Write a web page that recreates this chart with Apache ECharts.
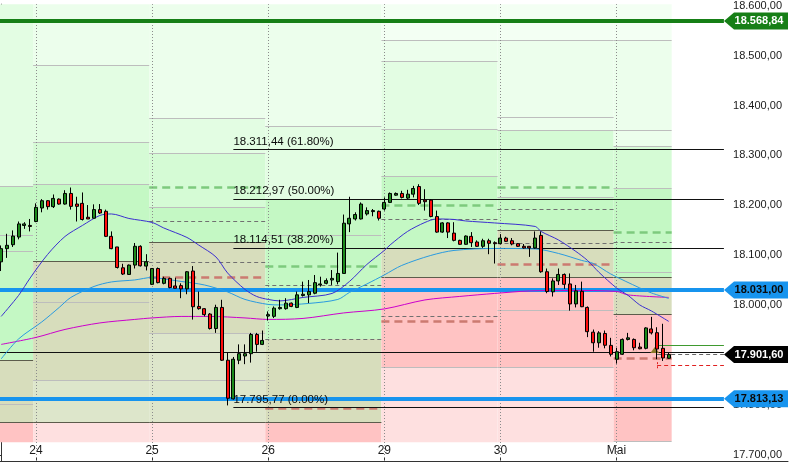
<!DOCTYPE html>
<html><head><meta charset="utf-8">
<script src="https://cdn.jsdelivr.net/npm/echarts@6/dist/echarts.min.js"></script>
<style>html,body{margin:0;padding:0;background:#fff}#c{width:790px;height:462px}</style>
</head><body><div id="c"></div>
<script>
// ---------- DATA ----------
const dayLabels = ['24', '25', '26', '29', '30', 'Mai'];
const dayStarts = [6, 26, 46, 66, 86, 106];
const yTicks = [17700, 17800, 17900, 18000, 18100, 18200, 18300, 18400, 18500, 18600];

const opens = [18087.2,18113.6,18121.5,18136.8,18160.0,18160.0,18167.9,18194.9,18209.5,18197.6,
18212.7,18202.8,18224.0,18202.8,18204.2,18176.4,18174.4,18191.7,18188.3,18138.2,
18117.0,18075.3,18062.0,18080.7,18118.3,18078.7,18042.2,18073.9,18044.2,18054.1,
18039.0,18039.6,18033.1,18068.8,17998.0,17993.5,17982.8,17953.8,17996.0,17890.4,
17813.1,17890.4,17898.9,17903.5,17941.9,17922.1,17978.8,17978.2,17993.5,17993.5,
18004.6,17996.0,18019.8,18021.2,18024.4,18041.0,18044.2,18050.9,18047.6,18064.0,
18163.1,18173.0,18173.0,18183.0,18187.7,18188.3,18192.9,18206.1,18220.6,18224.0,
18214.7,18222.6,18237.9,18210.7,18210.7,18177.8,18146.7,18165.1,18144.7,18130.2,
18122.3,18138.2,18126.9,18118.3,18129.4,18125.5,18123.5,18134.8,18129.4,18123.5,
18118.3,18118.3,18115.0,18140.1,18067.4,18027.2,18049.0,18062.0,18043.0,18003.0,
18028.3,17996.0,17946.5,17925.3,17943.9,17920.1,17892.4,17902.3,17932.0,17932.0,
17916.7,17914.2,17953.0,17945.5,17914.2,17894.3];
const closes = [18113.6,18120.3,18138.8,18163.1,18163.1,18158.0,18196.2,18209.5,18197.6,18214.1,
18202.8,18224.0,18198.2,18198.2,18171.9,18173.0,18191.7,18184.9,18138.2,18113.6,
18075.9,18062.8,18080.7,18118.3,18079.3,18087.2,18073.9,18045.6,18054.1,18035.7,
18034.3,18033.1,18067.4,17997.4,17993.5,17981.6,17953.8,17996.0,17890.4,17814.3,
17892.4,17903.5,17903.5,17941.9,17922.1,17930.0,17981.6,17994.6,17996.0,18004.6,
17998.0,18021.2,18022.4,18027.8,18045.6,18043.0,18049.6,18054.1,18064.0,18164.5,
18174.4,18181.8,18202.8,18189.7,18189.7,18174.4,18206.1,18224.0,18224.0,18216.1,
18222.6,18233.9,18204.2,18207.5,18177.8,18146.7,18165.1,18146.7,18130.2,18122.3,
18138.8,18125.5,18118.3,18129.4,18124.3,18123.5,18134.8,18128.2,18122.9,18118.3,
18115.0,18115.0,18134.8,18067.4,18027.8,18049.0,18062.0,18042.2,18003.0,18029.1,
17997.4,17947.5,17925.3,17945.1,17920.3,17902.3,17907.4,17932.0,17935.2,17915.4,
17913.4,17955.0,17945.1,17912.8,17894.9,17901.6];
const lows = [18068.8,18095.1,18117.0,18132.2,18153.2,18148.1,18166.5,18186.3,18191.7,18194.9,
18201.6,18201.6,18191.7,18167.9,18169.9,18173.0,18174.4,18183.0,18136.8,18112.4,
18073.9,18060.9,18060.9,18073.9,18077.9,18070.0,18041.0,18044.2,18042.2,18034.3,
18034.3,18014.5,18022.4,17971.7,17991.5,17978.2,17951.8,17945.1,17889.0,17800.0,
17811.7,17882.5,17882.5,17885.6,17907.4,17920.7,17969.7,17974.8,17991.5,17991.5,
17996.6,17994.6,18017.8,18004.6,18022.4,18037.7,18042.2,18041.0,18042.2,18064.0,
18146.7,18169.9,18171.9,18179.8,18178.4,18169.9,18189.7,18204.8,18219.4,18214.1,
18212.7,18216.1,18200.8,18189.7,18176.4,18145.3,18145.3,18134.8,18128.2,18121.5,
18121.5,18117.0,18117.0,18115.0,18102.5,18083.8,18122.3,18126.9,18120.3,18117.0,
18113.6,18097.1,18113.6,18065.4,18024.4,18017.8,18041.0,18033.1,17989.5,17996.0,
17996.6,17936.6,17907.4,17915.4,17914.2,17897.9,17883.6,17900.9,17930.0,17910.2,
17912.2,17912.2,17941.9,17892.4,17889.0,17893.0];
const highs = [18120.0,18143.3,18150.1,18167.9,18166.5,18173.0,18204.2,18212.7,18210.7,18222.0,
18214.1,18230.5,18235.9,18217.4,18226.0,18200.8,18202.2,18202.8,18191.7,18148.1,
18117.0,18083.3,18081.9,18124.9,18120.3,18102.5,18074.5,18075.9,18057.5,18055.5,
18055.5,18044.2,18068.8,18078.7,18027.8,17994.6,17984.7,18001.4,18011.3,17905.4,
17896.9,17922.1,17922.1,17945.1,17945.1,17949.8,17988.1,17998.0,18011.3,18014.5,
18005.9,18027.8,18047.6,18050.9,18060.9,18057.5,18054.1,18070.8,18105.7,18181.8,
18217.4,18186.3,18206.1,18196.2,18192.9,18189.7,18216.1,18226.0,18226.0,18229.3,
18231.3,18239.2,18242.5,18232.5,18212.7,18189.7,18166.5,18166.5,18166.5,18131.4,
18140.1,18146.7,18130.2,18133.4,18133.4,18128.2,18142.7,18137.4,18134.8,18124.9,
18122.9,18118.9,18148.1,18148.1,18073.9,18054.1,18073.9,18064.0,18064.0,18041.0,
18047.6,17998.0,17951.8,17948.5,17949.8,17935.2,17915.4,17934.0,17945.1,17934.0,
17925.3,17956.4,17977.2,17956.4,17963.3,17904.9];

// moving averages: [candle index, value]
const maFast = [[0,17978],[3,18020],[5,18055],[8,18102],[11,18138],[14,18160],[17,18180],[19,18183],[22,18174],
[26,18166],[28,18155],[32,18136],[34,18121],[37,18097],[39,18065],[42,18032],[44,18018],[46,18012],[48,18009],
[52,18016],[57,18024],[60,18048],[63,18082],[66,18110],[67,18121],[70,18148],[73,18166],[75,18173],[78,18172],
[80,18169],[85,18165],[92,18158],[93,18148],[96,18131],[99,18108],[101,18090],[103,18066],[106,18035],[108,18020],
[110,18001],[112,17989],[115,17968]];
const maMid = [[0,17893],[3,17933],[7,17967],[10,17996],[12,18016],[16,18038],[19,18047],[23,18051],[26,18056],
[28,18053],[31,18048],[35,18041],[39,18027],[42,18012],[46,18002],[48,18001],[53,18004],[58,18012],[60,18026],
[63,18043],[66,18061],[69,18080],[74,18100],[78,18110],[85,18114],[92,18113],[96,18104],[100,18090],[102,18084],
[105,18063],[110,18035],[112,18025],[115,18014]];
const maSlow = [[0,17922],[6,17936],[11,17952],[17,17965],[23,17972],[26,17975],[31,17978],[36,17978],[42,17975],
[46,17972],[52,17974],[59,17985],[66,17993],[73,18011],[79,18018],[85,18024],[91,18029],[98,18030],[106,18028],
[108,18021],[115,18016]];

const fibLevels = [18311.44, 18212.97, 18114.51, 17795.77];
const fibPcts = ['61.80%', '50.00%', '38.20%', '0.00%'];
const fibStart = 40;
const levelGreen = 18568.84;
const levelsBlue = [18031.00, 17813.13];
const lastPrice = 17901.60;
const supportLine = 17906.8;
const orderLine = 17920;
const stopLine = 17880.5;
const orderStart = 113;

// daily trading zones: start/end index, bands [lower edge, kind], lines [level, kind]
const zoneStarts = [-14, 6, 26, 46, 66, 86, 106];
const zoneEnds = [6, 26, 46, 66, 86, 106, 116];
const zoneBands = [
  [[18238,'L'],[17890,'G'],[17766,'K'],[17726.5,'P']],
  [[18480,'T'],[18326,'L'],[18242,'L2'],[18089,'G'],[17850,'K'],[17766,'K2'],[17726.5,'P2']],
  [[18375,'T'],[18304,'L'],[18196,'L2'],[18127,'G'],[17945,'K'],[17766,'K2'],[17726.5,'P2']],
  [[18358,'T'],[18213,'L'],[17933,'G'],[17766,'K'],[17726.5,'P']],
  [[18531,'T0'],[18489,'T'],[18352,'L'],[18259,'L2'],[18115,'G'],[18057,'K'],[17877,'P'],[17726.5,'P2']],
  [[18531,'T0'],[18351,'T'],[18217,'L2'],[18150,'G'],[18057,'K'],[17877,'P'],[17726.5,'P2']],
  [[18531,'T0'],[18318,'T'],[18234,'L2'],[18057,'G'],[17982,'K'],[17729,'P']]
];
const zoneLines = [
  [[18238,'g'],[18140,'g'],[18108,'g'],[17890,'d'],[17802,'g'],[17766,'d']],
  [[18480,'g'],[18326,'g'],[18242,'g'],[18089,'d'],[18006,'g'],[17850,'g'],[17766,'d']],
  [[18375,'g'],[18304,'g'],[18236,'gr'],[18196,'g'],[18168,'gd'],[18127,'d'],[18087,'gd'],[18057,'br'],[17945,'g'],[17850,'g'],[17766,'d']],
  [[18358,'g'],[18140,'g'],[18079,'gr'],[18041,'gd'],[17933,'gd'],[17795,'br'],[17766,'d']],
  [[18531,'g'],[18489,'g'],[18352,'g'],[18259,'g'],[18200,'gr'],[18173,'gd'],[18115,'d'],[18057,'d'],[17978,'gd'],[17968,'br'],[17877,'g']],
  [[18531,'g'],[18376,'g'],[18351,'g'],[18236,'gr'],[18217,'g'],[18193,'gd'],[18150,'d'],[18124,'gd'],[18083,'br'],[18057,'d'],[17990,'g'],[17877,'g']],
  [[18531,'g'],[18351,'g'],[18318,'g'],[18234,'g'],[18147,'gr'],[18126,'gd'],[18066,'g'],[18057,'d'],[17982,'d'],[17894,'br'],[17729,'g']]
];

// ---------- STYLE / LAYOUT ----------
const X_MIN = -0.2016, X_MAX = 135.54;
const Y_MIN = 17688.8, Y_MAX = 18602.6;
const LINE_END = 124.5, BADGE_X = 130.03;
const FONT = '"Liberation Sans", Arial, sans-serif';
const bandColors = {T0:'#f3fff3', T:'#ecfeec', L:'#e3fde3', L2:'#d5fbd5', G:'#c4f8c4', K:'#d7ddbc', K2:'#dde6cb', P:'#ffc3c3', P2:'#fee0e0'};
const lineKinds = {
  g: {color:'#bdbdbd', width:1, type:'solid'},
  d: {color:'#5c5c4c', width:1, type:'solid'},
  gd: {color:'#707070', width:1, type:[4,3]},
  gr: {color:'#7dca7d', width:2.5, type:[8,5]},
  br: {color:'#cc7a70', width:2.5, type:[8,5]}
};

function fmt(v) {
  const s = Math.abs(v).toFixed(2).split('.');
  return s[0].replace(/\B(?=(\d{3})+(?!\d))/g, '.') + ',' + s[1];
}

const bandItems = [], zoneLineItems = [];
zoneBands.forEach((bands, k) => {
  const x0 = Math.max(X_MIN, zoneStarts[k] - 0.5), x1 = zoneEnds[k] - 0.5;
  let upper = Y_MAX;
  bands.forEach(([lower, kind]) => {
    bandItems.push([{xAxis: x0, yAxis: upper, itemStyle: {color: bandColors[kind], opacity: 1}}, {xAxis: x1, yAxis: lower}]);
    upper = lower;
  });
  zoneLines[k].forEach(([v, kind]) => {
    zoneLineItems.push([{coord: [x0, v], lineStyle: lineKinds[kind]}, {coord: [x1, v]}]);
  });
});

const levelItems = [];
levelItems.push([{coord:[X_MIN, supportLine], lineStyle:{color:'#111', width:1, type:'solid'}}, {coord:[LINE_END, supportLine]}]);
levelItems.push([{coord:[X_MIN, levelGreen], lineStyle:{color:'#167f16', width:4, type:'solid'}}, {coord:[LINE_END, levelGreen]}]);
levelsBlue.forEach(v => levelItems.push([{coord:[X_MIN, v], lineStyle:{color:'#1794ee', width:4, type:'solid'}}, {coord:[LINE_END, v]}]));
levelItems.push([{coord:[orderStart, orderLine], lineStyle:{color:'#3f9a2f', width:1, type:'solid'}}, {coord:[LINE_END, orderLine]}]);
levelItems.push([{coord:[orderStart, lastPrice], lineStyle:{color:'#666', width:1, type:[4,3]}}, {coord:[LINE_END, lastPrice]}]);
levelItems.push([{coord:[orderStart, stopLine], lineStyle:{color:'#e02020', width:1, type:[4,3]}}, {coord:[LINE_END, stopLine]}]);
levelItems.push([{coord:[orderStart, stopLine + 6], lineStyle:{color:'#e02020', width:1, type:[2,2]}}, {coord:[orderStart, stopLine - 6]}]);
fibLevels.forEach((v, i) => levelItems.push([
  {coord:[fibStart, v], lineStyle:{color:'#111', width:1, type:'solid'},
   label:{show:true, position:'insideStartTop', distance:[0, 2], formatter: fmt(v) + ' (' + fibPcts[i] + ')', color:'#0a0a0a', fontSize:11.5, fontFamily: FONT}},
  {coord:[LINE_END, v]}
]));

function badge(v, bg, fg) {
  return {coord:[BADGE_X, v], symbol:'path://M0,8.5L10,0L64,0L64,17L10,17Z', symbolSize:[64,17], symbolKeepAspect:false,
    itemStyle:{color:bg}, label:{show:true, formatter: fmt(v), color: fg, fontSize:11, fontWeight:'bold', fontFamily: FONT, offset:[3,0]}};
}

const chart = echarts.init(document.getElementById('c'), null, {renderer:'canvas'});
chart.setOption({
  animation: false,
  backgroundColor: '#ffffff',
  grid: {left: 0, right: 2, top: 0, bottom: 1, containLabel: false},
  xAxis: {
    type: 'value', min: X_MIN, max: X_MAX,
    axisLine: {show: true, onZero: false, lineStyle: {color: '#333', width: 1}},
    axisTick: {show: true, inside: true, length: 3, customValues: dayStarts, lineStyle: {color: '#333'}},
    axisLabel: {inside: true, margin: 4, customValues: dayStarts, formatter: v => dayLabels[dayStarts.indexOf(Math.round(v))] || '', color: '#1a1a1a', fontSize: 12, fontFamily: FONT},
    splitLine: {show: false}
  },
  yAxis: {
    type: 'value', position: 'right', min: Y_MIN, max: Y_MAX, scale: true,
    axisLine: {show: true, lineStyle: {color: '#333', width: 1}},
    axisTick: {show: true, inside: true, length: 4, customValues: yTicks, lineStyle: {color: '#333'}},
    axisLabel: {inside: true, margin: 6, customValues: yTicks, formatter: v => fmt(v), color: '#1a1a1a', fontSize: 11, fontFamily: FONT},
    splitLine: {show: false}
  },
  series: [
    {type: 'line', name: 'zones', data: [], silent: true,
      markArea: {silent: true, label: {show: false}, data: bandItems}},
    {type: 'line', name: 'zoneLines', data: [], silent: true,
      markLine: {silent: true, symbol: ['none', 'none'], label: {show: false}, data: zoneLineItems}},
    {type: 'line', name: 'days', data: [], silent: true,
      markLine: {silent: true, symbol: ['none', 'none'], label: {show: false},
        lineStyle: {color: '#8c8c8c', width: 1, type: [1, 2]},
        data: dayStarts.map(d => ({xAxis: d}))}},
    {type: 'line', name: 'levels', data: [], silent: true,
      markLine: {silent: true, symbol: ['none', 'none'], label: {show: false}, data: levelItems}},
    {type: 'line', name: 'MA slow', data: maSlow, z: 10, silent: true, showSymbol: false, smooth: 0.3,
      lineStyle: {color: '#cc00cc', width: 1}},
    {type: 'line', name: 'MA mid', data: maMid, z: 10, silent: true, showSymbol: false, smooth: 0.3,
      lineStyle: {color: '#2a9be0', width: 1}},
    {type: 'line', name: 'MA fast', data: maFast, z: 10, silent: true, showSymbol: false, smooth: 0.3,
      lineStyle: {color: '#3b2fd0', width: 1}},
    {type: 'candlestick', name: 'DAX', z: 11, silent: true, barWidth: 3.5,
      encode: {x: 0, y: [1, 2, 3, 4]},
      data: opens.map((o, i) => [i, o, closes[i], lows[i], highs[i]]),
      itemStyle: {color: '#1b8a1b', color0: '#ff0d0d', borderColor: '#000', borderColor0: '#000', borderColorDoji: '#000', borderWidth: 1}},
    {type: 'line', name: 'badges', data: [], silent: true,
      markPoint: {silent: true, data: [
        badge(levelGreen, '#167f16', '#ffffff'),
        badge(levelsBlue[0], '#1794ee', '#0a0a0a'),
        badge(lastPrice, '#000000', '#ffffff'),
        badge(levelsBlue[1], '#1794ee', '#0a0a0a'),
        {coord: [112.6, 17911], symbol: 'triangle', symbolSize: [9, 6], itemStyle: {color: '#8a7a28'}, label: {show: false}}
      ]}}
  ]
});
</script></body></html>
